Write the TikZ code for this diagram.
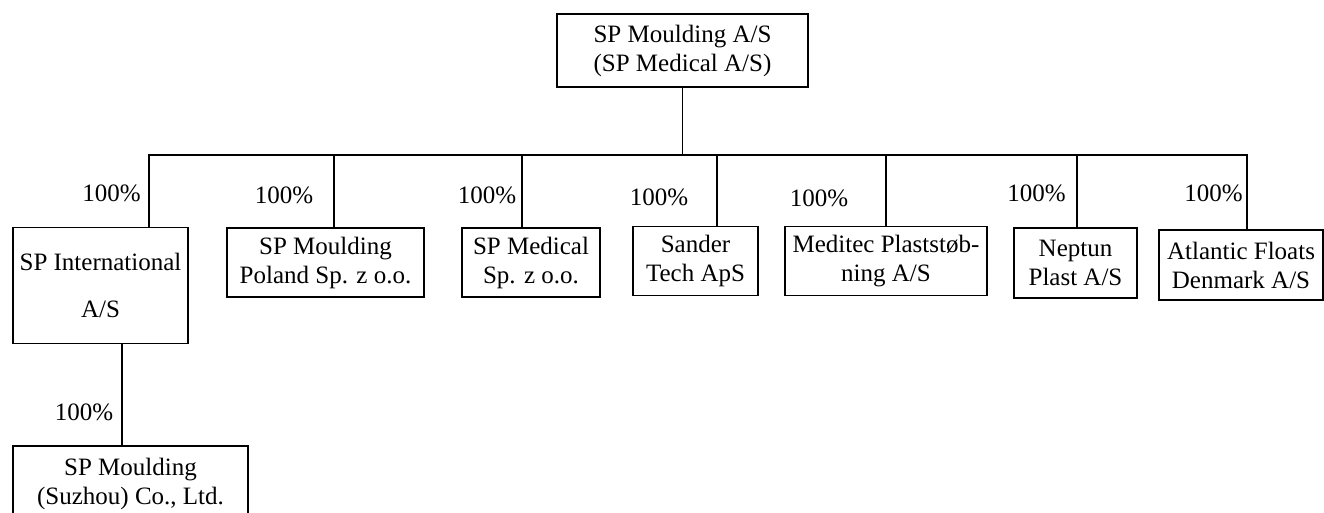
\documentclass[tikz,border=0pt]{standalone}
\usepackage{fontspec}
\setmainfont{Liberation Serif}
\usetikzlibrary{calc}
\tikzset{
    firm/.style = {draw, line width=1.6pt, align=center, inner sep=0pt,
        font=\fontsize{25}{29}\selectfont},
    share/.style = {font=\fontsize{25}{29}\selectfont},
}

\begin{document}
\begin{tikzpicture}[x=1pt, y=-1pt, line width=1.6pt]
\clip (0,0) rectangle (1324,512);

\node[firm, minimum width=251, minimum height=73] (SPM) at (682.5,50.5) {SP Moulding A/S\\(SP Medical A/S)};

\node[firm, minimum width=175, minimum height=116] (INT) at (100.5,285.5) {SP International\\[18pt]A/S};
\node[firm, minimum width=197, minimum height=69] (POL) at (325.5,262.5) {SP Moulding\\Poland Sp. z o.o.};
\node[firm, minimum width=138, minimum height=69] (MED) at (531,262.5) {SP Medical\\Sp. z o.o.};
\node[firm, minimum width=125, minimum height=69] (SAN) at (695.5,261) {Sander\\Tech ApS};
\node[firm, minimum width=202, minimum height=69] (MPL) at (886,261) {Meditec Plaststøb-\\ning A/S};
\node[firm, minimum width=123, minimum height=70] (NEP) at (1075.5,263) {Neptun\\Plast A/S};
\node[firm, minimum width=164, minimum height=70] (ATL) at (1241,265) {Atlantic Floats\\Denmark A/S};
\node[firm, minimum width=235, minimum height=76] (SUZ) at (130.5,484) {SP Moulding\\(Suzhou) Co., Ltd.};

% bus and drops
\coordinate (jINT) at (149,155);
\coordinate (jPOL) at (334,155);
\coordinate (jMED) at (522,155);
\coordinate (jSAN) at (717,155);
\coordinate (jMPL) at (886,155);
\coordinate (jNEP) at (1077,155);
\coordinate (jATL) at (1247,155);

\draw (SPM.south) -- (SPM.south |- jINT);
\draw (jINT |- INT.north) -- (jINT) -- (jATL) -- (jATL |- ATL.north);
\draw (jPOL) -- (jPOL |- POL.north);
\draw (jMED) -- (jMED |- MED.north);
\draw (jSAN) -- (jSAN |- SAN.north);
\draw (jMPL) -- (jMPL |- MPL.north);
\draw (jNEP) -- (jNEP |- NEP.north);

\coordinate (kINT) at ($(INT.south west)+(110,0)$);
\draw (kINT) -- (kINT |- SUZ.north);

% shares
\node[share] (lINT) at (111.5,193) {100\%};
\node[share] (lPOL) at (284,195) {100\%};
\node[share] (lMED) at (487,195) {100\%};
\node[share] (lSAN) at (659,197) {100\%};
\node[share] (lMPL) at (819,198) {100\%};
\node[share] (lNEP) at (1036.5,193) {100\%};
\node[share] (lATL) at (1213.5,193) {100\%};
\node[share] (lSUZ) at (84,412) {100\%};
\end{tikzpicture}
\end{document}
